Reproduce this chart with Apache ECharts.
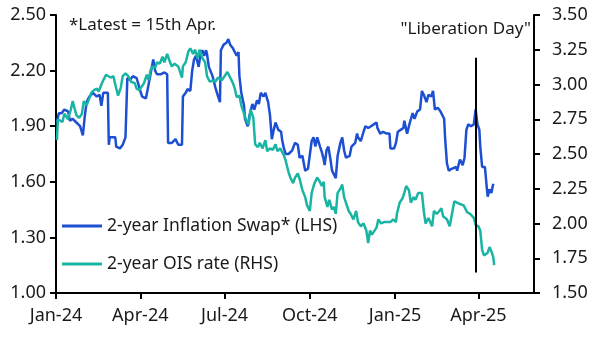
<!DOCTYPE html>
<html>
<head>
<meta charset="utf-8">
<script src="https://cdn.jsdelivr.net/npm/echarts@6/dist/echarts.min.js"></script>
<style>
  html, body { margin: 0; padding: 0; background: #fff; }
  #chart { width: 594px; height: 340px; }
</style>
</head>
<body>
<div id="chart"></div>
<script>
// quarter ticks on the date axis
var tickDates = ['2024-01-01', '2024-04-01', '2024-07-01', '2024-10-01', '2025-01-01', '2025-04-01'];
var tickLabels = ['Jan-24', 'Apr-24', 'Jul-24', 'Oct-24', 'Jan-25', 'Apr-25'];
var liberationDay = '2025-03-29';

// 2-year inflation swap (LHS)
var swapDates = ['2024-01-02','2024-01-04','2024-01-07','2024-01-10','2024-01-14','2024-01-16','2024-01-19','2024-01-23','2024-01-27','2024-01-30','2024-01-31',
  '2024-02-01','2024-02-03','2024-02-06','2024-02-10','2024-02-14','2024-02-17','2024-02-19','2024-02-21','2024-02-23','2024-02-26','2024-02-27','2024-02-28',
  '2024-03-01','2024-03-05','2024-03-06','2024-03-10','2024-03-13','2024-03-16','2024-03-18','2024-03-21','2024-03-24','2024-03-28',
  '2024-04-01','2024-04-03','2024-04-05','2024-04-07','2024-04-09','2024-04-12','2024-04-15','2024-04-17','2024-04-19','2024-04-23','2024-04-27','2024-04-30',
  '2024-05-01','2024-05-05','2024-05-09','2024-05-12','2024-05-14','2024-05-16','2024-05-17','2024-05-20','2024-05-22','2024-05-25','2024-05-27','2024-05-29','2024-05-31',
  '2024-06-02','2024-06-03','2024-06-05','2024-06-07','2024-06-09','2024-06-11','2024-06-12','2024-06-14','2024-06-18','2024-06-21','2024-06-24','2024-06-26','2024-06-27','2024-06-30',
  '2024-07-03','2024-07-05','2024-07-07','2024-07-10','2024-07-14','2024-07-16','2024-07-17','2024-07-19','2024-07-22','2024-07-23','2024-07-26','2024-07-28','2024-07-31',
  '2024-08-02','2024-08-05','2024-08-07','2024-08-09','2024-08-12','2024-08-14','2024-08-17','2024-08-19','2024-08-21','2024-08-23','2024-08-25','2024-08-28','2024-08-31',
  '2024-09-01','2024-09-03','2024-09-05','2024-09-08','2024-09-12','2024-09-15','2024-09-18','2024-09-20','2024-09-23','2024-09-26','2024-09-29',
  '2024-10-03','2024-10-05','2024-10-07','2024-10-09','2024-10-12','2024-10-14','2024-10-16','2024-10-17','2024-10-19','2024-10-21','2024-10-23','2024-10-25','2024-10-27','2024-10-29','2024-10-31',
  '2024-11-03','2024-11-05','2024-11-07','2024-11-09','2024-11-13','2024-11-15','2024-11-19','2024-11-21','2024-11-22','2024-11-25','2024-11-28','2024-11-30',
  '2024-12-03','2024-12-06','2024-12-09','2024-12-12','2024-12-13','2024-12-16','2024-12-19','2024-12-23','2024-12-26','2024-12-27','2024-12-31',
  '2025-01-02','2025-01-04','2025-01-07','2025-01-10','2025-01-11','2025-01-14','2025-01-17','2025-01-20','2025-01-22','2025-01-25','2025-01-28','2025-01-30',
  '2025-02-01','2025-02-02','2025-02-04','2025-02-06','2025-02-09','2025-02-11','2025-02-13','2025-02-16','2025-02-19','2025-02-21','2025-02-23','2025-02-24','2025-02-26','2025-02-28',
  '2025-03-03','2025-03-05','2025-03-08','2025-03-09','2025-03-12','2025-03-15','2025-03-17','2025-03-19','2025-03-21','2025-03-24','2025-03-27','2025-03-29','2025-03-31',
  '2025-04-02','2025-04-03','2025-04-05','2025-04-08','2025-04-10','2025-04-11','2025-04-13','2025-04-15','2025-04-17'];
var swapValues = [1.92,1.97,1.97,1.99,1.98,1.93,1.94,1.92,1.90,1.85,1.90,
  1.95,2.03,2.06,2.08,2.06,2.07,2.01,2.08,2.09,2.08,1.80,1.84,
  1.83,1.84,1.79,1.78,1.80,1.84,2.16,2.15,2.17,2.16,
  2.09,2.06,2.07,2.05,2.10,2.18,2.26,2.20,2.18,2.18,2.19,2.18,
  1.81,1.81,1.83,1.80,1.81,1.80,2.06,2.08,2.10,2.09,2.20,2.26,2.28,
  2.24,2.22,2.29,2.31,2.28,2.31,2.29,2.22,2.17,2.11,2.06,2.03,2.31,2.34,
  2.35,2.37,2.34,2.32,2.28,2.30,2.17,2.08,2.01,1.94,1.90,1.96,2.02,
  1.99,2.04,2.02,2.08,2.06,2.08,2.03,1.96,1.83,1.88,1.92,1.88,1.87,
  1.83,1.78,1.75,1.75,1.77,1.81,1.80,1.73,1.74,1.66,1.67,
  1.82,1.84,1.79,1.84,1.79,1.76,1.72,1.69,1.77,1.79,1.73,1.66,1.64,1.62,1.74,
  1.81,1.84,1.77,1.73,1.74,1.79,1.81,1.86,1.84,1.82,1.87,1.90,
  1.89,1.90,1.91,1.92,1.89,1.86,1.87,1.86,1.86,1.78,1.78,
  1.81,1.87,1.88,1.89,1.93,1.86,1.92,1.97,1.94,1.98,1.99,2.09,
  2.07,2.08,2.03,2.07,2.06,2.09,1.99,2.00,1.98,1.99,1.94,1.84,1.70,1.66,
  1.67,1.66,1.68,1.66,1.72,1.69,1.73,1.88,1.91,1.90,1.91,1.99,1.91,
  1.88,1.79,1.68,1.68,1.57,1.52,1.56,1.54,1.59];

// 2-year OIS rate (RHS)
var oisDates = ['2024-01-02','2024-01-03','2024-01-05','2024-01-08','2024-01-10','2024-01-14','2024-01-17','2024-01-19','2024-01-21','2024-01-23','2024-01-26','2024-01-29','2024-01-31',
  '2024-02-03','2024-02-06','2024-02-08','2024-02-11','2024-02-14','2024-02-16','2024-02-19','2024-02-21','2024-02-24','2024-02-26','2024-02-29',
  '2024-03-03','2024-03-05','2024-03-08','2024-03-11','2024-03-13','2024-03-16','2024-03-19','2024-03-22','2024-03-26','2024-03-28','2024-03-31',
  '2024-04-02','2024-04-05','2024-04-08','2024-04-10','2024-04-12','2024-04-14','2024-04-17','2024-04-19','2024-04-22','2024-04-25','2024-04-27','2024-04-30',
  '2024-05-02','2024-05-05','2024-05-08','2024-05-12','2024-05-14','2024-05-16','2024-05-17','2024-05-20','2024-05-23','2024-05-25','2024-05-28','2024-05-30',
  '2024-06-02','2024-06-04','2024-06-07','2024-06-10','2024-06-12','2024-06-15','2024-06-18','2024-06-21','2024-06-24','2024-06-28',
  '2024-07-01','2024-07-04','2024-07-07','2024-07-10','2024-07-12','2024-07-14','2024-07-17','2024-07-19','2024-07-22','2024-07-24','2024-07-27','2024-07-29',
  '2024-08-01','2024-08-03','2024-08-06','2024-08-08','2024-08-11','2024-08-14','2024-08-16','2024-08-19','2024-08-22','2024-08-25','2024-08-27','2024-08-30',
  '2024-09-03','2024-09-05','2024-09-08','2024-09-10','2024-09-13','2024-09-15','2024-09-18','2024-09-20','2024-09-23','2024-09-26','2024-09-28',
  '2024-10-01','2024-10-03','2024-10-06','2024-10-09','2024-10-11','2024-10-14','2024-10-16','2024-10-17','2024-10-20','2024-10-22','2024-10-25','2024-10-27','2024-10-29','2024-10-31',
  '2024-11-03','2024-11-05','2024-11-07','2024-11-09','2024-11-12','2024-11-14','2024-11-17','2024-11-20','2024-11-22','2024-11-25','2024-11-28',
  '2024-12-01','2024-12-03','2024-12-05','2024-12-07','2024-12-09','2024-12-12','2024-12-14','2024-12-17','2024-12-20','2024-12-23','2024-12-27','2024-12-30',
  '2025-01-02','2025-01-03','2025-01-06','2025-01-09','2025-01-11','2025-01-13','2025-01-16','2025-01-18','2025-01-21','2025-01-23','2025-01-26','2025-01-28','2025-01-30',
  '2025-02-01','2025-02-03','2025-02-06','2025-02-10','2025-02-12','2025-02-15','2025-02-18','2025-02-20','2025-02-22','2025-02-26',
  '2025-03-01','2025-03-03','2025-03-06','2025-03-09','2025-03-12','2025-03-16','2025-03-20','2025-03-23','2025-03-27','2025-03-29',
  '2025-04-01','2025-04-03','2025-04-05','2025-04-07','2025-04-11','2025-04-13','2025-04-15','2025-04-17','2025-04-18'];
var oisValues = [2.60,2.75,2.76,2.73,2.79,2.75,2.82,2.88,2.83,2.78,2.76,2.79,2.88,
  2.85,2.90,2.94,2.96,2.97,2.95,3.00,3.03,3.07,3.08,3.05,
  3.06,3.00,2.92,2.98,3.06,3.08,3.06,3.02,3.01,2.97,2.96,
  2.98,3.01,3.07,3.03,3.10,3.13,3.12,3.16,3.15,3.20,3.16,3.22,
  3.18,3.13,3.15,3.13,3.14,3.05,3.13,3.16,3.24,3.26,3.22,3.25,
  3.19,3.25,3.19,3.16,3.06,3.02,3.03,3.02,3.05,3.03,
  3.06,3.09,3.05,3.01,2.97,2.91,2.92,2.85,2.79,2.75,2.71,2.82,
  2.76,2.57,2.55,2.58,2.54,2.60,2.52,2.54,2.53,2.57,2.52,2.54,
  2.49,2.45,2.37,2.33,2.29,2.33,2.36,2.32,2.24,2.19,2.13,
  2.09,2.22,2.29,2.33,2.31,2.27,2.30,2.19,2.12,2.17,2.10,2.12,2.07,2.22,
  2.25,2.28,2.19,2.15,2.09,2.07,2.03,2.09,2.01,1.98,2.00,
  1.95,1.86,1.95,1.92,1.91,1.97,2.03,2.00,2.01,2.01,2.01,2.03,
  2.01,2.07,2.15,2.18,2.22,2.27,2.24,2.15,2.19,2.17,2.22,2.23,2.22,
  2.09,2.00,2.04,1.98,2.09,2.07,2.09,2.11,2.05,2.03,
  1.98,1.99,2.16,2.15,2.14,2.13,2.08,2.07,2.04,1.99,
  1.98,1.95,1.81,1.77,1.79,1.83,1.80,1.76,1.70];

// daily category axis, Jan-24 to end of May-25
var days = [];
for (var t = Date.UTC(2024, 0, 1); t <= Date.UTC(2025, 4, 31); t += 86400000) {
  days.push(new Date(t).toISOString().slice(0, 10));
}
function pairs(dates, vals) {
  return dates.map(function (d, i) { return [days.indexOf(d), vals[i]]; });
}

var font = 'Noto Sans';
var ink = '#1a1a1a';
var axisStyle = { lineStyle: { color: '#000', width: 2 } };

var option = {
  animation: false,
  textStyle: { fontFamily: font },
  grid: { left: 56, right: 60, top: 15, bottom: 47 },
  legend: {
    orient: 'vertical',
    left: 62,
    top: 217,
    itemWidth: 40,
    itemHeight: 3,
    itemGap: 20,
    icon: 'rect',
    padding: 0,
    textStyle: { fontSize: 17.5, color: ink, fontFamily: font },
    data: ['2-year Inflation Swap* (LHS)', '2-year OIS rate (RHS)']
  },
  graphic: [
    { type: 'text', left: 69, top: 17,
      style: { text: '*Latest = 15th Apr.', fontSize: 17, fontFamily: font, fill: ink } },
    { type: 'text', right: 63, top: 21,
      style: { text: '"Liberation Day"', fontSize: 17, fontFamily: font, fill: ink } }
  ],
  xAxis: {
    type: 'category',
    data: days,
    boundaryGap: false,
    axisLine: axisStyle,
    axisTick: {
      length: 6, lineStyle: { color: '#000', width: 2 },
      interval: function (i, v) { return tickDates.indexOf(v) >= 0; }
    },
    axisLabel: {
      fontSize: 18, color: ink, margin: 14,
      interval: function (i, v) { return tickDates.indexOf(v) >= 0; },
      formatter: function (v) { return tickLabels[tickDates.indexOf(v)]; }
    },
    splitLine: { show: false }
  },
  yAxis: [
    {
      type: 'value', min: 1.0, max: 2.5, interval: 0.3,
      axisLine: { show: true, lineStyle: { color: '#000', width: 2 } },
      axisTick: { show: true, length: 6, lineStyle: { color: '#000', width: 2 } },
      axisLabel: { fontSize: 18, color: ink, margin: 10, formatter: function (v) { return v.toFixed(2); } },
      splitLine: { show: false }
    },
    {
      type: 'value', min: 1.5, max: 3.5, interval: 0.25,
      axisLine: { show: true, lineStyle: { color: '#000', width: 2 } },
      axisTick: { show: true, length: 6, lineStyle: { color: '#000', width: 2 } },
      axisLabel: { fontSize: 18, color: ink, margin: 18, formatter: function (v) { return v.toFixed(2); } },
      splitLine: { show: false }
    }
  ],
  series: [
    {
      name: '2-year Inflation Swap* (LHS)',
      type: 'line',
      yAxisIndex: 0,
      data: pairs(swapDates, swapValues),
      showSymbol: false,
      color: '#1c4fd2',
      lineStyle: { width: 2.5, color: '#1c4fd2' },
      markLine: {
        silent: true,
        symbol: 'none',
        label: { show: false },
        lineStyle: { color: '#000', width: 2, type: 'solid' },
        data: [[
          { coord: [days.indexOf(liberationDay), 2.27] },
          { coord: [days.indexOf(liberationDay), 1.11] }
        ]]
      }
    },
    {
      name: '2-year OIS rate (RHS)',
      type: 'line',
      yAxisIndex: 1,
      data: pairs(oisDates, oisValues),
      showSymbol: false,
      color: '#19b4a2',
      lineStyle: { width: 2.5, color: '#19b4a2' }
    }
  ]
};

var chart = echarts.init(document.getElementById('chart'));
chart.setOption(option);
</script>
</body>
</html>
